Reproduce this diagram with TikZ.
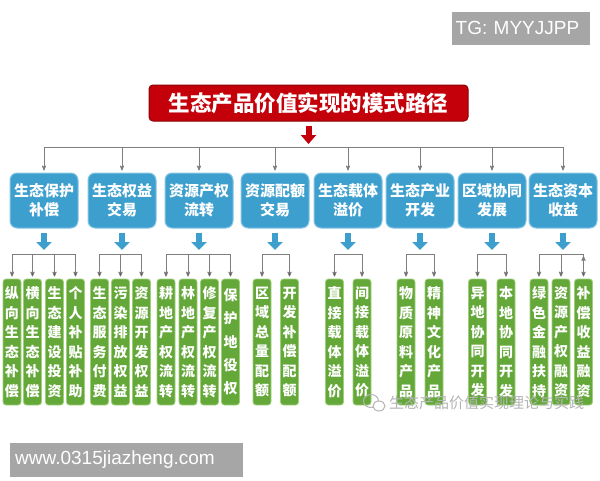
\documentclass[tikz,border=0pt]{standalone}
\usepackage{fontspec}
\setmainfont{Liberation Sans}
\newfontfamily\cjk{Noto Sans CJK SC}
\usepackage{tikz}
\usetikzlibrary{arrows,arrows.meta,positioning}
\definecolor{titlered}{HTML}{C4000B}
\definecolor{titleedge}{HTML}{8E0000}
\definecolor{pathblue}{HTML}{3D9FCD}
\definecolor{blueedge}{HTML}{86C6E4}
\definecolor{leafgreen}{HTML}{65A83A}
\definecolor{greenedge}{HTML}{9FCF7A}
\definecolor{linkgray}{HTML}{7F7F7F}
\definecolor{taggray}{HTML}{A6A6A6}
\definecolor{markgray}{HTML}{B4B4B4}
\tikzset{
    %Define standard arrow tip
    >=stealth',
    %Define style for boxes
    titlebox/.style={
           rectangle,
           rounded corners=4pt,
           draw=titleedge, line width=1pt,
           fill=titlered,
           minimum width=319pt,
           minimum height=36pt,
           text=white,
           font=\cjk\bfseries\fontsize{21.5}{24}\selectfont},
    pathbox/.style={
           rectangle,
           rounded corners=7pt,
           draw=blueedge, line width=1pt,
           fill=pathblue,
           minimum width=68pt,
           minimum height=55pt,
           inner sep=0pt,
           align=center,
           text=white,
           font=\cjk\bfseries\fontsize{15}{19}\selectfont},
    leafbox/.style={
           rectangle,
           rounded corners=3pt,
           draw=greenedge, line width=0.8pt,
           fill=leafgreen,
           minimum width=18pt,
           minimum height=126pt,
           inner sep=0pt,
           align=center,
           text=white,
           font=\cjk\bfseries\fontsize{14}{19.5}\selectfont},
    tag/.style={
           rectangle,
           fill=taggray,
           text=white,
           anchor=north west,
           align=left,
           font=\fontsize{19}{22}\selectfont},
    % Define arrow style
    link/.style={
           ->,
           draw=linkgray,
           line width=0.8pt,
           shorten >=2pt},
    bus/.style={
           draw=linkgray,
           line width=0.8pt},
    redarrow/.style={
           draw=titlered,
           line width=6pt,
           shorten <=4pt,
           -{Triangle[length=9pt,width=15pt]}},
    bluearrow/.style={
           draw=pathblue,
           line width=6pt,
           shorten <=4pt,
           -{Triangle[length=8pt,width=15pt]}}
}
\begin{document}
\begin{tikzpicture}[x=1pt,y=-1pt]
\useasboundingbox (0,0) rectangle (600,480);

 %tags
\node[tag, inner xsep=4pt, text width=130.5pt, minimum height=33.5pt] (tg) at (451.5,11.5) {TG: MYYJJPP};
\node[tag, inner xsep=5.4pt, text width=222.6pt, minimum height=33.5pt] (web) at (9.6,443) {www.0315jiazheng.com};

 %title
\node[titlebox] (title) at (308.5,103) {生态产品价值实现的模式路径};

 %paths
\node[pathbox] (b1) at (44,200.5) {生态保护\\补偿};
\node[pathbox] (b2) at (122,200.5) {生态权益\\交易};
\node[pathbox] (b3) at (199,200.5) {资源产权\\流转};
\node[pathbox] (b4) at (275,200.5) {资源配额\\交易};
\node[pathbox] (b5) at (348,200.5) {生态载体\\溢价};
\node[pathbox] (b6) at (420,200.5) {生态产业\\开发};
\node[pathbox] (b7) at (492,200.5) {区域协同\\发展};
\node[pathbox] (b8) at (563,200.5) {生态资本\\收益};

 %leaves
\node[leafbox] (g11) at (12,342) {纵\\向\\生\\态\\补\\偿};
\node[leafbox] (g12) at (32.5,342) {横\\向\\生\\态\\补\\偿};
\node[leafbox] (g13) at (54.5,342) {生\\态\\建\\设\\投\\资};
\node[leafbox] (g14) at (75.5,342) {个\\人\\补\\贴\\补\\助};
\node[leafbox] (g21) at (99.5,342) {生\\态\\服\\务\\付\\费};
\node[leafbox] (g22) at (120.5,342) {污\\染\\排\\放\\权\\益};
\node[leafbox] (g23) at (141.5,342) {资\\源\\开\\发\\权\\益};
\node[leafbox] (g31) at (166,342) {耕\\地\\产\\权\\流\\转};
\node[leafbox] (g32) at (188,342) {林\\地\\产\\权\\流\\转};
\node[leafbox] (g33) at (209.5,342) {修\\复\\产\\权\\流\\转};
\node[leafbox, font=\cjk\bfseries\fontsize{14}{23.3}\selectfont] (g34) at (230.5,342) {保\\护\\地\\役\\权};
\node[leafbox] (g41) at (262,342) {区\\域\\总\\量\\配\\额};
\node[leafbox] (g42) at (289.5,342) {开\\发\\补\\偿\\配\\额};
\node[leafbox] (g51) at (334.5,342) {直\\接\\载\\体\\溢\\价};
\node[leafbox] (g52) at (362,342) {间\\接\\载\\体\\溢\\价};
\node[leafbox] (g61) at (406,342) {物\\质\\原\\料\\产\\品};
\node[leafbox] (g62) at (434,342) {精\\神\\文\\化\\产\\品};
\node[leafbox] (g71) at (477.5,342) {异\\地\\协\\同\\开\\发};
\node[leafbox] (g72) at (506,342) {本\\地\\协\\同\\开\\发};
\node[leafbox] (g81) at (539,342) {绿\\色\\金\\融\\扶\\持};
\node[leafbox] (g82) at (561,342) {资\\源\\产\\权\\融\\资};
\node[leafbox] (g83) at (583.5,342) {补\\偿\\收\\益\\融\\资};

 %watermark
\draw[markgray, line width=1pt] (371,401) ellipse (7.5 and 6.5);
\draw[markgray, line width=1pt, fill=white] (379,406) ellipse (6 and 5);
\node[anchor=west, inner sep=0pt, text=markgray, font=\cjk\fontsize{15}{18}\selectfont] (mark) at (389,403) {生态产品价值实现理论与实践};

 %connectors
\coordinate (redtip) at (308.5,144);
\coordinate (rail) at (0,147);
\coordinate (row) at (0,250);
\coordinate (fork) at (0,254);

\draw[redarrow] (title.south) -- (redtip);
\draw[bus] (b1.north |- rail) -- (b8.north |- rail);
\draw[link] (b1.north |- rail) -- (b1.north);
\draw[link] (b2.north |- rail) -- (b2.north);
\draw[link] (b3.north |- rail) -- (b3.north);
\draw[link] (b4.north |- rail) -- (b4.north);
\draw[link] (b5.north |- rail) -- (b5.north);
\draw[link] (b6.north |- rail) -- (b6.north);
\draw[link] (b7.north |- rail) -- (b7.north);
\draw[link] (b8.north |- rail) -- (b8.north);

\draw[bluearrow] (b1.south) -- (b1.south |- row);
\draw[bluearrow] (b2.south) -- (b2.south |- row);
\draw[bluearrow] (b3.south) -- (b3.south |- row);
\draw[bluearrow] (b4.south) -- (b4.south |- row);
\draw[bluearrow] (b5.south) -- (b5.south |- row);
\draw[bluearrow] (b6.south) -- (b6.south |- row);
\draw[bluearrow] (b7.south) -- (b7.south |- row);
\draw[bluearrow] (b8.south) -- (b8.south |- row);

\draw[bus] (g11.north |- fork) -- (g14.north |- fork);
\draw[bus] (g21.north |- fork) -- (g23.north |- fork);
\draw[bus] (g31.north |- fork) -- (g34.north |- fork);
\draw[bus] (g41.north |- fork) -- (g42.north |- fork);
\draw[bus] (g51.north |- fork) -- (g52.north |- fork);
\draw[bus] (g61.north |- fork) -- (g62.north |- fork);
\draw[bus] (g71.north |- fork) -- (g72.north |- fork);
\draw[bus] (g81.north |- fork) -- (g83.north |- fork);

\path[link]
    (g11.north |- fork) edge (g11.north)
    (g12.north |- fork) edge (g12.north)
    (g13.north |- fork) edge (g13.north)
    (g14.north |- fork) edge (g14.north)
    (g21.north |- fork) edge (g21.north)
    (g22.north |- fork) edge (g22.north)
    (g23.north |- fork) edge (g23.north)
    (g31.north |- fork) edge (g31.north)
    (g32.north |- fork) edge (g32.north)
    (g33.north |- fork) edge (g33.north)
    (g34.north |- fork) edge (g34.north)
    (g41.north |- fork) edge (g41.north)
    (g42.north |- fork) edge (g42.north)
    (g51.north |- fork) edge (g51.north)
    (g52.north |- fork) edge (g52.north)
    (g61.north |- fork) edge (g61.north)
    (g62.north |- fork) edge (g62.north)
    (g71.north |- fork) edge (g71.north)
    (g72.north |- fork) edge (g72.north)
    (g81.north |- fork) edge (g81.north)
    (g82.north |- fork) edge (g82.north)
    (g83.north |- fork) edge (g83.north);

\end{tikzpicture}
\end{document}
